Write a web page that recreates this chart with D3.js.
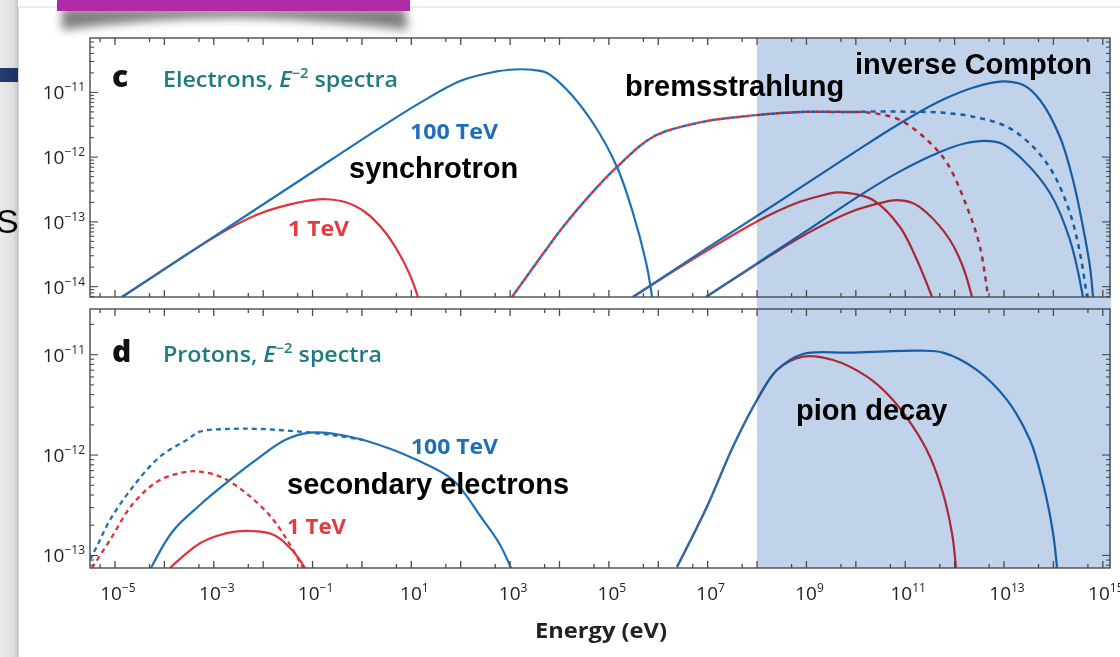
<!DOCTYPE html>
<html>
<head>
<meta charset="utf-8">
<script src="https://cdn.jsdelivr.net/npm/d3@7"></script>
<style>
  html, body { margin: 0; padding: 0; background: #fff; overflow: hidden; }
  svg { display: block; }
</style>
</head>
<body>
<svg id="fig" width="1120" height="657"></svg>
<script>
// Spectra as [log10 E (eV), log10 E^2 dN/dE] pairs.

// Panel c: electrons with E^-2 spectra, cut-offs at 1 TeV and 100 TeV
const synchrotron1TeV = [
  [-4.858, -14.16], [-4.089, -13.774], [-3.279, -13.37], [-2.672, -13.094],
  [-2.064, -12.87], [-1.457, -12.73], [-1.052, -12.668], [-0.748, -12.65],
  [-0.343, -12.693], [0.062, -12.847], [0.467, -13.156], [0.770, -13.511],
  [0.973, -13.820], [1.135, -14.16]
];
const synchrotron100TeV = [
  [-4.858, -14.16], [-3.279, -13.37], [-1.254, -12.357], [0.365, -11.547],
  [1.2, -11.15], [2.0, -10.82], [2.7, -10.68], [3.0, -10.65], [3.2, -10.643],
  [3.5, -10.655], [3.75, -10.70], [4.15, -10.96], [4.678, -11.473], [5.164, -12.152],
  [5.488, -12.863], [5.772, -13.697], [5.873, -14.16]
];
const bremsRise = [
  [3.038, -14.16], [3.605, -13.558], [4.071, -13.079], [4.617, -12.585],
  [5.164, -12.152], [5.893, -11.689], [6.784, -11.473], [7.796, -11.365],
  [8.869, -11.303], [9.882, -11.303]
];
const brems1TeVTail = [
  [10.347, -11.318], [10.894, -11.426], [11.441, -11.735], [11.846, -12.091],
  [12.250, -12.770], [12.514, -13.388], [12.676, -14.16]
];
const brems100TeVTail = [
  [10.489, -11.295], [11.036, -11.298], [11.704, -11.311], [12.372, -11.375],
  [13.060, -11.530], [13.587, -11.839], [13.992, -12.245], [14.336, -12.863],
  [14.538, -13.480], [14.680, -14.16]
];
const icUpper100TeV = [
  [5.488, -14.16], [7.0, -13.40], [8.5, -12.66], [10.0, -11.91],
  [11.0, -11.43], [11.8, -11.10], [12.4, -10.92], [12.98, -10.83],
  [13.4, -10.89], [13.728, -11.118], [14.133, -11.689], [14.397, -12.353],
  [14.599, -13.079], [14.741, -13.697], [14.802, -14.16]
];
const icUpper1TeV = [
  [5.488, -14.16], [6.5, -13.67], [7.654, -13.14], [8.262, -12.89],
  [8.869, -12.69], [9.274, -12.60], [9.619, -12.545], [9.983, -12.57],
  [10.347, -12.662], [10.894, -13.079], [11.238, -13.589], [11.542, -14.16]
];
const icLower100TeV = [
  [6.966, -14.16], [8.0, -13.64], [9.0, -13.14], [10.084, -12.59],
  [10.894, -12.22], [11.704, -11.92], [12.2, -11.79], [12.6, -11.75],
  [12.95, -11.79], [13.384, -12.044], [13.931, -12.554], [14.336, -13.280],
  [14.599, -14.16]
];
const icLower1TeV = [
  [6.966, -14.16], [7.654, -13.82], [8.869, -13.24], [9.882, -12.85],
  [10.489, -12.71], [10.833, -12.665], [11.137, -12.705], [11.441, -12.863],
  [11.906, -13.280], [12.170, -13.697], [12.352, -14.16]
];

// Panel d: protons with E^-2 spectra
const secondary100TeVDashed = [
  [-5.506, -13.045], [-5.371, -12.913], [-5.101, -12.647], [-4.636, -12.315],
  [-4.089, -12.016], [-3.548, -11.850], [-3.279, -11.767], [-2.672, -11.740],
  [-2.064, -11.740], [-1.194, -11.770], [-0.546, -11.805], [0.033, -11.850]
];
const secondary100TeV = [
  [-4.271, -13.125], [-3.826, -12.756], [-3.279, -12.497], [-2.773, -12.288],
  [-2.145, -12.049], [-1.558, -11.850], [-1.052, -11.777], [-0.546, -11.790],
  [0.033, -11.850], [1.115, -12.049], [1.843, -12.248], [2.410, -12.617],
  [2.775, -12.876], [3.018, -13.125]
];
const secondary1TeVDashed = [
  [-5.466, -13.125], [-5.405, -13.078], [-5.101, -12.846], [-4.629, -12.480],
  [-4.089, -12.248], [-3.548, -12.166], [-3.279, -12.166], [-2.854, -12.218],
  [-2.348, -12.378], [-1.841, -12.617], [-1.477, -12.876], [-1.194, -13.125]
];
const secondary1TeV = [
  [-3.886, -13.125], [-3.279, -12.879], [-2.874, -12.796], [-2.348, -12.756],
  [-1.781, -12.796], [-1.416, -12.945], [-1.153, -13.125]
];
const pionRise = [
  [6.379, -13.115], [6.986, -12.514], [7.513, -11.916], [7.999, -11.451],
  [8.403, -11.153]
];
const pion100TeVTail = [
  [8.930, -10.993], [9.882, -10.980], [11.299, -10.960], [11.765, -10.980],
  [12.453, -11.153], [13.060, -11.451], [13.526, -11.850], [13.789, -12.278],
  [13.992, -12.776], [14.073, -13.125]
];
const pion1TeVTail = [
  [8.930, -11.020], [9.538, -11.053], [10.226, -11.219], [10.692, -11.419],
  [11.157, -11.717], [11.501, -12.016], [11.765, -12.381], [11.947, -12.779],
  [12.028, -13.125]
];

// Axis ranges (log10) and tick labels
const energyRange = [-5.506, 15.146];
const fluxRangeC = [-14.16, -10.16];
const fluxRangeD = [-13.125, -10.545];
const energyLabelExponents = [-5, -3, -1, 1, 3, 5, 7, 9, 11, 13, 15];
const fluxLabelsC = [-14, -13, -12, -11];
const fluxLabelsD = [-13, -12, -11];
const gammaBandStart = 8; // log10 E of shaded band

const BLUE = "#1f70b3", RED = "#e0313c", TEAL = "#1e7a80", FRAME = "#4a4a4a";
const TICKFONT = "'Open Sans', 'Noto Sans', sans-serif";
const ANNOFONT = "'Liberation Sans', Arial, sans-serif";

const svg = d3.select("#fig");
const defs = svg.append("defs");

// ---- slide backdrop ----
const g1 = defs.append("linearGradient").attr("id", "edgeShade").attr("x1", 0).attr("x2", 1);
g1.append("stop").attr("offset", 0).attr("stop-color", "#ebebeb");
g1.append("stop").attr("offset", 0.75).attr("stop-color", "#dedede");
g1.append("stop").attr("offset", 1).attr("stop-color", "#c4c4c4");
svg.append("rect").attr("x", 0).attr("y", 0).attr("width", 18).attr("height", 657).attr("fill", "url(#edgeShade)");
svg.append("line").attr("x1", 18).attr("x2", 1120).attr("y1", 7).attr("y2", 7).attr("stroke", "#dcdcdc");
svg.append("line").attr("x1", 18.5).attr("x2", 18.5).attr("y1", 7).attr("y2", 657).attr("stroke", "#d4d4d4");

const g2 = defs.append("linearGradient").attr("id", "navy").attr("x1", 0).attr("x2", 1);
g2.append("stop").attr("offset", 0).attr("stop-color", "#243f72");
g2.append("stop").attr("offset", 1).attr("stop-color", "#1a3260");
svg.append("rect").attr("x", 0).attr("y", 68).attr("width", 18).attr("height", 14).attr("fill", "url(#navy)");
svg.append("text").attr("x", -4).attr("y", 233).attr("font-family", ANNOFONT)
  .attr("font-size", 34).attr("fill", "#000").text("S");

const blur = defs.append("filter").attr("id", "soft").attr("x", "-20%").attr("y", "-50%").attr("width", "140%").attr("height", "260%");
blur.append("feGaussianBlur").attr("stdDeviation", 5);
svg.append("path")
  .attr("d", "M62,8 L405,8 L408,30 Q300,18 235,18 Q150,18 62,30 Z")
  .attr("fill", "#555").attr("opacity", 0.75).attr("filter", "url(#soft)");
svg.append("rect").attr("x", 57).attr("y", 0).attr("width", 353).attr("height", 11).attr("fill", "#b12aa8");

// ---- scales ----
const left = 90, right = 1110;
const panels = [
  { top: 38, bottom: 297, range: fluxRangeC, labels: fluxLabelsC, id: "c" },
  { top: 309, bottom: 568, range: fluxRangeD, labels: fluxLabelsD, id: "d" }
];
const x = d3.scaleLog().domain(energyRange.map(e => 10 ** e)).range([left, right]);
panels.forEach(p => {
  p.y = d3.scaleLog().domain(p.range.map(e => 10 ** e)).range([p.bottom, p.top]);
  defs.append("clipPath").attr("id", "clip-" + p.id)
    .append("rect").attr("x", left).attr("y", p.top).attr("width", right - left).attr("height", p.bottom - p.top);
});
const [pc, pd] = panels;

// ---- curves ----
function curve(panel, data, color, dash, offset, width) {
  const line = d3.line()
    .x(d => x(10 ** d[0]))
    .y(d => panel.y(10 ** d[1]))
    .curve(d3.curveCatmullRom.alpha(0.5));
  svg.append("path")
    .attr("clip-path", "url(#clip-" + panel.id + ")")
    .attr("d", line(data))
    .attr("fill", "none")
    .attr("stroke", color)
    .attr("stroke-width", width || 2.2)
    .attr("stroke-dasharray", dash || null)
    .attr("stroke-dashoffset", offset || 0)
    .attr("stroke-linejoin", "round");
}

// panel c
curve(pc, synchrotron1TeV, RED);
curve(pc, synchrotron100TeV, BLUE);
curve(pc, bremsRise.concat(brems1TeVTail), RED, "5 5", 0, 2.5);
curve(pc, bremsRise.concat(brems100TeVTail), BLUE, "5 5", 5, 2.5);
curve(pc, icUpper1TeV, RED);
curve(pc, icLower1TeV, RED);
curve(pc, icUpper100TeV, BLUE);
curve(pc, icLower100TeV, BLUE);

// panel d
curve(pd, secondary1TeVDashed, RED, "5 4", 0, 2.3);
curve(pd, secondary100TeVDashed, BLUE, "5 4", 0, 2.3);
curve(pd, secondary1TeV, RED);
curve(pd, secondary100TeV, BLUE);
curve(pd, pionRise.concat(pion1TeVTail), RED);
curve(pd, pionRise.concat(pion100TeVTail), BLUE);

// ---- gamma-ray band ----
svg.append("rect")
  .attr("x", x(10 ** gammaBandStart)).attr("y", pc.top)
  .attr("width", right + 1 - x(10 ** gammaBandStart)).attr("height", pd.bottom - pc.top)
  .attr("fill", "#c0d3ea")
  .style("mix-blend-mode", "multiply");

// ---- frames and ticks ----
const decades = d3.range(-5, 16);
const halfDecades = d3.range(-6, 16).map(n => 5 * 10 ** n).filter(v => v >= x.domain()[0] && v <= x.domain()[1]);

panels.forEach(p => {
  const g = svg.append("g");
  g.append("rect").attr("x", left).attr("y", p.top).attr("width", right - left).attr("height", p.bottom - p.top)
    .attr("fill", "none").attr("stroke", FRAME).attr("stroke-width", 1.4);

  // energy ticks, top and bottom, pointing inward
  const xt = decades.map(n => ({ v: 10 ** n, len: 7 })).concat(halfDecades.map(v => ({ v, len: 4 })));
  g.selectAll(null).data(xt).join("line")
    .attr("x1", d => x(d.v)).attr("x2", d => x(d.v))
    .attr("y1", p.bottom).attr("y2", d => p.bottom - d.len)
    .attr("stroke", FRAME).attr("stroke-width", 1.3);
  g.selectAll(null).data(xt).join("line")
    .attr("x1", d => x(d.v)).attr("x2", d => x(d.v))
    .attr("y1", p.top).attr("y2", d => p.top + d.len)
    .attr("stroke", FRAME).attr("stroke-width", 1.3);

  // flux ticks, left and right
  const yt = [];
  for (let n = Math.floor(p.range[0]) ; n <= Math.ceil(p.range[1]); n++) {
    for (let m = 1; m <= 9; m++) {
      const v = m * 10 ** n;
      if (v >= p.y.domain()[0] && v <= p.y.domain()[1]) yt.push({ v, len: m === 1 ? 8 : 4 });
    }
  }
  g.selectAll(null).data(yt).join("line")
    .attr("x1", left).attr("x2", d => left + d.len)
    .attr("y1", d => p.y(d.v)).attr("y2", d => p.y(d.v))
    .attr("stroke", FRAME).attr("stroke-width", 1.1);
  g.selectAll(null).data(yt).join("line")
    .attr("x1", right).attr("x2", d => right - d.len)
    .attr("y1", d => p.y(d.v)).attr("y2", d => p.y(d.v))
    .attr("stroke", FRAME).attr("stroke-width", 1.1);

  // flux labels
  const lab = g.selectAll(null).data(p.labels).join("text")
    .attr("x", left - 5).attr("y", d => p.y(10 ** d) + 7)
    .attr("text-anchor", "end")
    .attr("font-family", TICKFONT).attr("font-size", 19).attr("fill", "#222");
  lab.append("tspan").text("10");
  lab.append("tspan").attr("dy", -8).attr("font-size", 12).text(d => "\u2212" + Math.abs(d));
});

// energy labels
const xl = svg.append("g").selectAll(null).data(energyLabelExponents).join("text")
  .attr("x", d => x(10 ** d) + 3).attr("y", 600)
  .attr("text-anchor", "middle")
  .attr("font-family", TICKFONT).attr("font-size", 19).attr("fill", "#222");
xl.append("tspan").text("10");
xl.append("tspan").attr("dy", -8).attr("font-size", 12).text(d => (d < 0 ? "\u2212" : "") + Math.abs(d));

svg.append("text").attr("x", 601).attr("y", 638).attr("text-anchor", "middle")
  .attr("font-family", TICKFONT).attr("font-weight", 700).attr("font-size", 21).attr("fill", "#222")
  .attr("textLength", 132).attr("lengthAdjust", "spacingAndGlyphs")
  .text("Energy (eV)");

// ---- panel titles ----
function panelTitle(letter, word, yBase, width) {
  svg.append("text").attr("x", 112).attr("y", yBase).attr("font-family", TICKFONT)
    .attr("font-weight", 800).attr("font-size", 30).attr("fill", "#111").text(letter);
  const t = svg.append("text").attr("x", 163).attr("y", yBase)
    .attr("font-family", TICKFONT).attr("font-weight", 600).attr("font-size", 22).attr("fill", TEAL)
    .attr("textLength", width).attr("lengthAdjust", "spacingAndGlyphs");
  t.append("tspan").text(word + ", ");
  t.append("tspan").attr("font-style", "italic").text("E");
  t.append("tspan").attr("dy", -9).attr("font-size", 14).text("\u22122");
  t.append("tspan").attr("dy", 9).text(" spectra");
}
panelTitle("c", "Electrons", 87, 235);
panelTitle("d", "Protons", 362, 219);

// ---- energy cut-off labels ----
function cutLabel(txt, color, xPos, yBase, width) {
  svg.append("text").attr("x", xPos).attr("y", yBase)
    .attr("font-family", TICKFONT).attr("font-weight", 700).attr("font-size", 22).attr("fill", color)
    .attr("textLength", width).attr("lengthAdjust", "spacingAndGlyphs").text(txt);
}
cutLabel("100 TeV", "#1f6fb8", 410, 139, 88);
cutLabel("1 TeV", "#e23a3f", 288, 236, 61);
cutLabel("100 TeV", "#1f6fb8", 411, 454, 87);
cutLabel("1 TeV", "#e23a3f", 287, 534, 59);

// ---- process annotations ----
const notes = [
  ["synchrotron", 349, 178],
  ["bremsstrahlung", 625, 96],
  ["inverse Compton", 855, 74],
  ["pion decay", 796, 420],
  ["secondary electrons", 287, 494]
];
svg.append("g").selectAll(null).data(notes).join("text")
  .attr("x", d => d[1]).attr("y", d => d[2])
  .attr("font-family", ANNOFONT).attr("font-weight", 700).attr("font-size", 29).attr("fill", "#000")
  .text(d => d[0]);
</script>
</body>
</html>
